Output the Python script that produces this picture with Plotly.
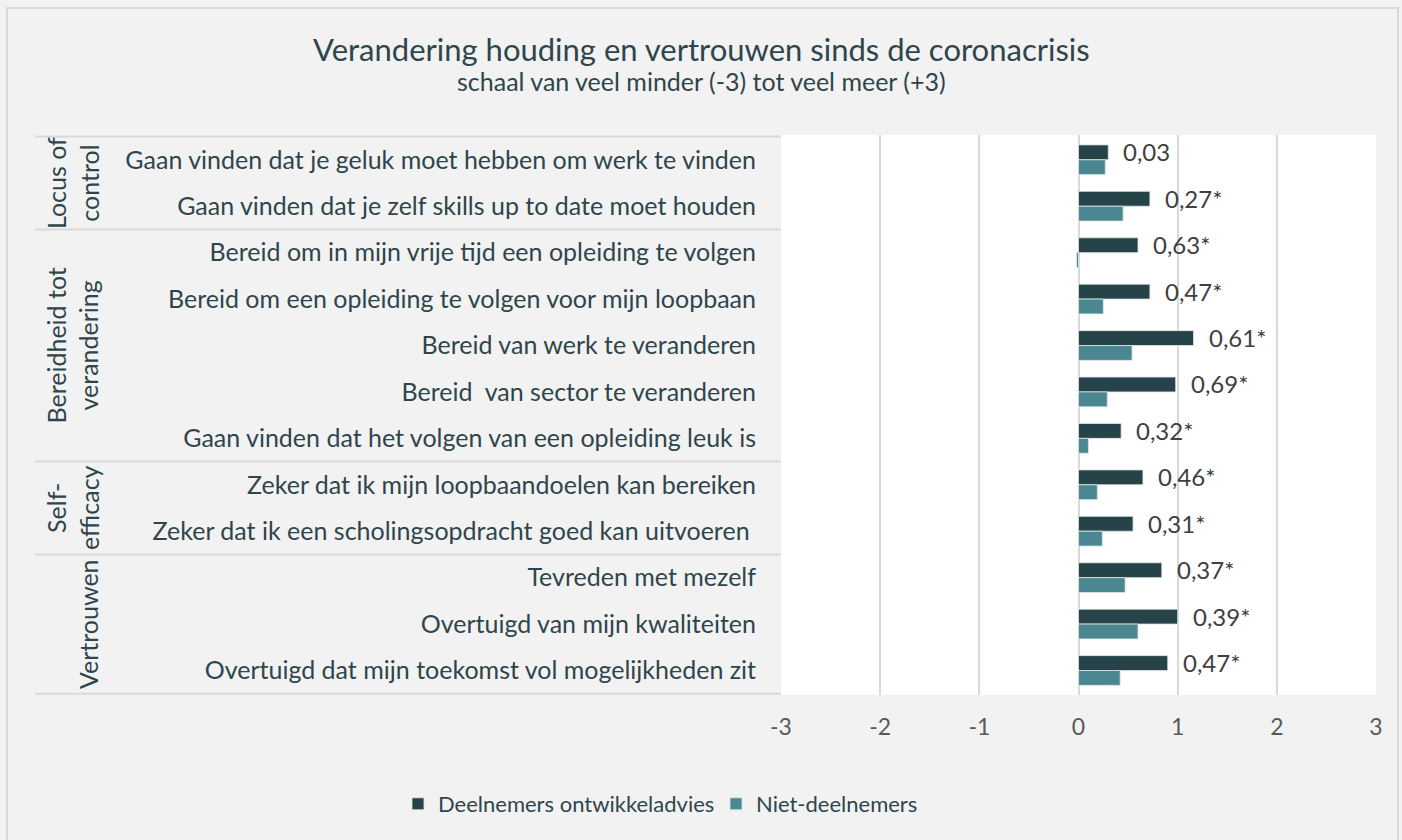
import plotly.graph_objects as go

# Data
items = [
    "Gaan vinden dat je geluk moet hebben om werk te vinden",
    "Gaan vinden dat je zelf skills up to date moet houden",
    "Bereid om in mijn vrije tijd een opleiding te volgen",
    "Bereid om een opleiding te volgen voor mijn loopbaan",
    "Bereid van werk te veranderen",
    "Bereid  van sector te veranderen",
    "Gaan vinden dat het volgen van een opleiding leuk is",
    "Zeker dat ik mijn loopbaandoelen kan bereiken",
    "Zeker dat ik een scholingsopdracht goed kan uitvoeren ",
    "Tevreden met mezelf",
    "Overtuigd van mijn kwaliteiten",
    "Overtuigd dat mijn toekomst vol mogelijkheden zit",
]
deelnemers = [0.30, 0.72, 0.60, 0.72, 1.16, 0.98, 0.43, 0.65, 0.55, 0.84, 1.00, 0.90]
niet_deelnemers = [0.27, 0.45, -0.02, 0.25, 0.54, 0.29, 0.10, 0.19, 0.24, 0.47, 0.60, 0.42]
verschil = ["0,03", "0,27*", "0,63*", "0,47*", "0,61*", "0,69*",
            "0,32*", "0,46*", "0,31*", "0,37*", "0,39*", "0,47*"]

groups = ["Locus of<br>control", "Bereidheid tot<br>verandering",
          "Self-<br>efficacy", "Vertrouwen"]
group_start = [0, 2, 7, 9]
group_end = [1, 6, 8, 11]
x_ticks = [-3, -2, -1, 0, 1, 2, 3]
x_ticktext = ["-3", "-2", "-1", "0", "1", "2", "3"]

title = "Verandering houding en vertrouwen sinds de coronacrisis"
subtitle = "schaal van veel minder (-3) tot veel meer (+3)"

W, H = 1402, 840
FONT = "Lato"
DARK = "#264349"
TEAL = "#4a8791"
TXT = "#2f454c"
GRID = "#d9d9d9"

fig = go.Figure()
fig.add_trace(go.Bar(y=items, x=deelnemers, orientation="h",
                     name="Deelnemers ontwikkeladvies",
                     marker=dict(color=DARK, line=dict(color="#dfe6e7", width=0.8))))
fig.add_trace(go.Bar(y=items, x=niet_deelnemers, orientation="h",
                     name="Niet-deelnemers",
                     marker=dict(color=TEAL, line=dict(color="#dfe6e7", width=0.8))))

# difference labels next to the dark bars
for it, v, t in zip(items, deelnemers, verschil):
    fig.add_annotation(x=v, y=it, text=t, showarrow=False, xanchor="left",
                       xshift=13, yshift=8,
                       font=dict(family=FONT, size=24, color="#404040"))

# group labels + separator lines
lx0, lx1 = 35 / W, 781 / W
fig.add_shape(type="line", xref="paper", yref="y", x0=lx0, x1=lx1,
              y0=-0.5, y1=-0.5, line=dict(color=GRID, width=2))
for g, s, e in zip(groups, group_start, group_end):
    fig.add_shape(type="line", xref="paper", yref="y", x0=lx0, x1=lx1,
                  y0=e + 0.5, y1=e + 0.5, line=dict(color=GRID, width=2))
    gx = 88 if "<br>" not in g else 72
    fig.add_annotation(x=gx / W, xref="paper", y=(s + e) / 2, yref="y",
                       xanchor="center", yanchor="middle",
                       text=g, textangle=-90, showarrow=False,
                       font=dict(family=FONT, size=25, color=TXT))

# title and subtitle
fig.add_annotation(text=title, x=0.5, y=1 - 49 / H, xref="paper", yref="paper",
                   showarrow=False, xanchor="center", yanchor="middle",
                   font=dict(family=FONT, size=31, color=TXT))
fig.add_annotation(text=subtitle, x=0.5, y=1 - 81 / H, xref="paper", yref="paper",
                   showarrow=False, xanchor="center", yanchor="middle",
                   font=dict(family=FONT, size=25, color=TXT))

# outer border
fig.add_shape(type="rect", xref="paper", yref="paper",
              x0=7 / W, x1=1398 / W, y0=-0.01, y1=1 - 8 / H,
              line=dict(color=GRID, width=2))

fig.update_layout(
    width=W, height=H,
    margin=dict(l=0, r=0, t=0, b=0, autoexpand=False),
    paper_bgcolor="#f2f2f2", plot_bgcolor="white",
    barmode="group", bargap=0.36, bargroupgap=0,
    font=dict(family=FONT, color=TXT),
    xaxis=dict(domain=[781 / W, 1376 / W], range=[-3, 3],
               tickvals=x_ticks, ticktext=x_ticktext,
               showgrid=True, gridcolor=GRID, gridwidth=2,
               zeroline=True, zerolinecolor=GRID, zerolinewidth=2,
               showline=False, ticks="", ticklabelstandoff=16,
               tickfont=dict(family=FONT, size=23, color="#595959"),
               fixedrange=True, automargin=False),
    yaxis=dict(domain=[1 - 695 / H, 1 - 135 / H], autorange="reversed",
               showgrid=False, ticks="", ticklabelstandoff=24,
               tickfont=dict(family=FONT, size=25, color=TXT),
               automargin=False),
    legend=dict(orientation="h", x=398 / W, xanchor="left", y=1 - 783 / H,
                yanchor="top", font=dict(family=FONT, size=22, color=TXT),
                traceorder="normal", itemwidth=30, entrywidth=273),
)

fig.write_html("out.html", config={"displayModeBar": False},
               post_script="document.body.style.margin='0';document.body.style.overflow='hidden';")
